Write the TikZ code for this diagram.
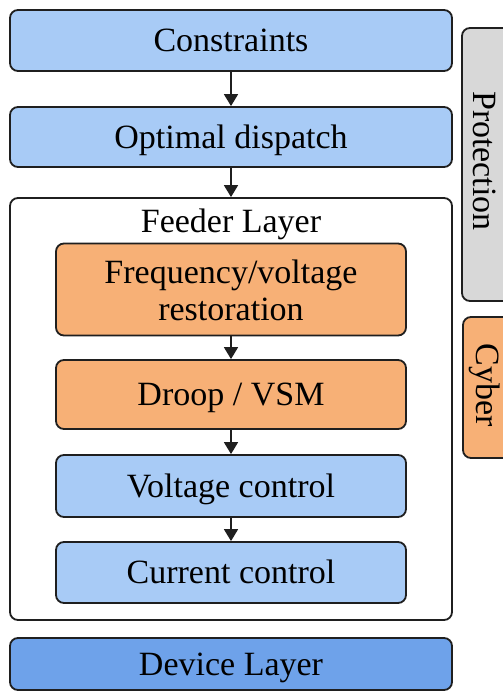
\documentclass[tikz,border=0pt]{standalone}
\usepackage{fontspec}
\setmainfont{Liberation Serif}
\usetikzlibrary{arrows.meta}
\definecolor{lblue}{HTML}{A8CBF6}
\definecolor{dblue}{HTML}{6EA2EA}
\definecolor{orng}{HTML}{F7B076}
\definecolor{lgray}{HTML}{D8D8D8}
\definecolor{edge}{HTML}{1F1F1F}
\begin{document}
\begin{tikzpicture}[x=1bp,y=-1bp,
  every node/.style={font=\fontsize{34bp}{38bp}\selectfont, inner sep=0pt, text=black},
  boxbase/.style={draw=edge, line width=1.8bp, rounded corners=8bp, align=center, text height=22bp, text depth=0bp},
  wide/.style={boxbase, minimum width=442bp},
  inner/.style={boxbase, minimum width=350bp},
  flow/.style={draw=edge, line width=1.6bp, -{Triangle[width=14bp,length=12bp]}}
]
\useasboundingbox (0,0) rectangle (503,691);
\clip (0,0) rectangle (503,691);
\node[wide, fill=lblue, minimum height=61bp] (con) at (231,40.5) {Constraints};
\node[wide, fill=lblue, minimum height=60bp] (opt) at (231,137) {Optimal dispatch};
\node[wide, fill=white, minimum height=422bp] (feed) at (231,409) {};
\node[anchor=base] (feedlbl) at (231,232) {Feeder Layer};
\node[inner, fill=orng, minimum height=92bp] (freq) at (231,289.5) {};
\node[anchor=base] (freqa) at (231,283) {Frequency/voltage};
\node[anchor=base] (freqb) at (231,320) {restoration};
\node[inner, fill=orng, minimum height=69bp] (droop) at (231,394.5) {Droop / VSM};
\node[inner, fill=lblue, minimum height=62bp] (volt) at (231,486) {Voltage control};
\node[inner, fill=lblue, minimum height=61bp] (curr) at (231,572.5) {Current control};
\node[wide, fill=dblue, minimum height=52bp] (dev) at (231,664) {Device Layer};
\node[boxbase, fill=lgray, minimum width=80bp, minimum height=273bp] (prot) at (502,164.5) {};
\node[rotate=-90] (protlbl) at (485,161) {Protection};
\node[boxbase, fill=orng, minimum width=80bp, minimum height=141bp] (cyb) at (503,387.5) {};
\node[rotate=-90] (cyblbl) at (485,385) {Cyber};
\draw[flow] (con.south) -- (opt.north);
\draw[flow] (opt.south) -- (feed.north);
\draw[flow] (freq.south) -- (droop.north);
\draw[flow] (droop.south) -- (volt.north);
\draw[flow] (volt.south) -- (curr.north);
\end{tikzpicture}
\end{document}
